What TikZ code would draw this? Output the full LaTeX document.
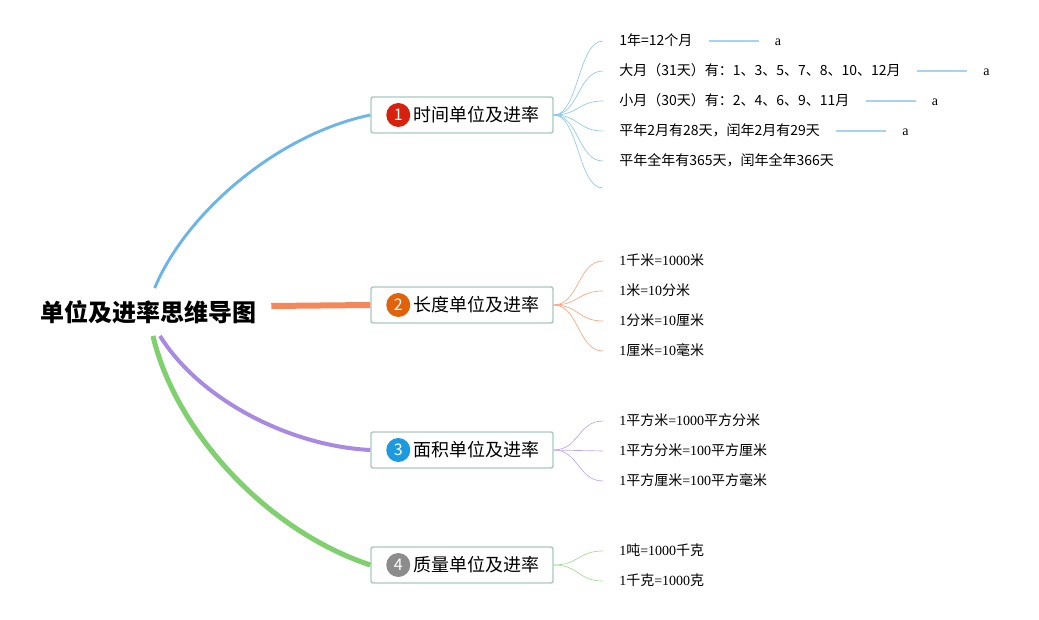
\documentclass[tikz,border=0pt]{standalone}
\usepackage{fontspec}
\setmainfont{Liberation Serif}
\newfontfamily\cjk{Noto Sans CJK SC}
\usepackage{tikz}
\usetikzlibrary{positioning}
\definecolor{boxline}{HTML}{A9C9C0}
\definecolor{lblue}{HTML}{6CB5E5}
\definecolor{lorange}{HTML}{F4885A}
\definecolor{lpurple}{HTML}{A98AE2}
\definecolor{lgreen}{HTML}{80D070}
\definecolor{dred}{HTML}{D4220E}
\definecolor{dorange}{HTML}{E2620C}
\definecolor{dblue}{HTML}{1B9AE0}
\definecolor{dgrey}{HTML}{8C8C8C}
\definecolor{tailc}{HTML}{A8D2EE}

\begin{document}
\begin{tikzpicture}[x=0.75pt, y=-0.75pt,
	box/.style={draw=boxline, line width=1.1pt, rounded corners=1.5pt, fill=white, minimum width=136.5pt, minimum height=27pt, inner sep=0pt},
	dot/.style={circle, fill=#1, text=white, minimum size=18pt, inner sep=0pt, font=\cjk\fontsize{12}{12}\selectfont},
	btext/.style={inner sep=1pt, font=\cjk\fontsize{13.5}{16}\selectfont},
	leaf/.style={anchor=west, inner xsep=12pt, inner ysep=2pt, text height=8.5pt, text depth=2pt, font=\fontsize{10.5}{12}\selectfont},
	tail/.style={inner xsep=12pt, inner ysep=2pt, text height=8.5pt, text depth=2pt, font=\fontsize{10.5}{12}\selectfont},
	twig/.style={line width=0.5pt, draw=#1!75},
	tailline/.style={line width=1.1pt, draw=tailc}]
	\useasboundingbox (0,0) rectangle (1039,620);

	% centre
	\node[inner xsep=11.25pt, inner ysep=9pt, font=\cjk\bfseries\fontsize{18}{20}\selectfont] (root) at (148,312) {单位及进率思维导图};

	% branches
	\node[box] (b1) at (462,115) {};
	\node[dot=dred] (n1) at ([xshift=21pt]b1.west) {1};
	\node[btext, right=1pt of n1] (t1) {时间单位及进率};
	\node[box] (b2) at (462,305) {};
	\node[dot=dorange] (n2) at ([xshift=21pt]b2.west) {2};
	\node[btext, right=1pt of n2] (t2) {长度单位及进率};
	\node[box] (b3) at (462,450) {};
	\node[dot=dblue] (n3) at ([xshift=21pt]b3.west) {3};
	\node[btext, right=1pt of n3] (t3) {面积单位及进率};
	\node[box] (b4) at (462,565) {};
	\node[dot=dgrey] (n4) at ([xshift=21pt]b4.west) {4};
	\node[btext, right=1pt of n4] (t4) {质量单位及进率};

	\draw[lblue, line width=2.2pt] ([xshift=5pt]root.north) .. controls (185,215) and (275,135) .. (b1.west);
	\draw[lorange, line width=4.5pt] ([yshift=4.5pt]root.east) -- (b2.west);
	\draw[lpurple, line width=3pt] ([xshift=9pt]root.south) .. controls (200,400) and (290,446) .. (b3.west);
	\draw[lgreen, line width=3.8pt] ([xshift=3.75pt]root.south) .. controls (175,430) and (265,530) .. (b4.west);

	% time
	\node[leaf] (l11) at (603,41) {\cjk 1年=12个月};
	\node[leaf] (l12) at (603,71) {\cjk 大月（31天）有：1、3、5、7、8、10、12月};
	\node[leaf] (l13) at (603,101) {\cjk 小月（30天）有：2、4、6、9、11月};
	\node[leaf] (l14) at (603,131) {\cjk 平年2月有28天，闰年2月有29天};
	\node[leaf] (l15) at (603,161) {\cjk 平年全年有365天，闰年全年366天};
	\coordinate (l16) at (603,188);
	\node[tail, right=37.5pt of l11] (a11) {a};
	\node[tail, right=37.5pt of l12] (a12) {a};
	\node[tail, right=37.5pt of l13] (a13) {a};
	\node[tail, right=37.5pt of l14] (a14) {a};
	\draw[tailline] (l11.east) -- (a11.west);
	\draw[tailline] (l12.east) -- (a12.west);
	\draw[tailline] (l13.east) -- (a13.west);
	\draw[tailline] (l14.east) -- (a14.west);
	\draw[twig=lblue] (b1.east) .. controls +(25,0) and +(-25,0) .. (l11.west);
	\draw[twig=lblue] (b1.east) .. controls +(25,0) and +(-25,0) .. (l12.west);
	\draw[twig=lblue] (b1.east) .. controls +(25,0) and +(-25,0) .. (l13.west);
	\draw[twig=lblue] (b1.east) .. controls +(25,0) and +(-25,0) .. (l14.west);
	\draw[twig=lblue] (b1.east) .. controls +(25,0) and +(-25,0) .. (l15.west);
	\draw[twig=lblue] (b1.east) .. controls +(25,0) and +(-25,0) .. (l16);

	% length
	\node[leaf] (l21) at (603,261) {1{\cjk 千米}=1000{\cjk 米}};
	\node[leaf] (l22) at (603,291) {1{\cjk 米}=10{\cjk 分米}};
	\node[leaf] (l23) at (603,321) {1{\cjk 分米}=10{\cjk 厘米}};
	\node[leaf] (l24) at (603,351) {1{\cjk 厘米}=10{\cjk 毫米}};
	\draw[twig=lorange] (b2.east) .. controls +(25,0) and +(-25,0) .. (l21.west);
	\draw[twig=lorange] (b2.east) .. controls +(25,0) and +(-25,0) .. (l22.west);
	\draw[twig=lorange] (b2.east) .. controls +(25,0) and +(-25,0) .. (l23.west);
	\draw[twig=lorange] (b2.east) .. controls +(25,0) and +(-25,0) .. (l24.west);

	% area
	\node[leaf] (l31) at (603,421) {1{\cjk 平方米}=1000{\cjk 平方分米}};
	\node[leaf] (l32) at (603,451) {1{\cjk 平方分米}=100{\cjk 平方厘米}};
	\node[leaf] (l33) at (603,481) {1{\cjk 平方厘米}=100{\cjk 平方毫米}};
	\draw[twig=lpurple] (b3.east) .. controls +(25,0) and +(-25,0) .. (l31.west);
	\draw[twig=lpurple] (b3.east) .. controls +(25,0) and +(-25,0) .. (l32.west);
	\draw[twig=lpurple] (b3.east) .. controls +(25,0) and +(-25,0) .. (l33.west);

	% mass
	\node[leaf] (l41) at (603,551) {1{\cjk 吨}=1000{\cjk 千克}};
	\node[leaf] (l42) at (603,581) {1{\cjk 千克}=1000{\cjk 克}};
	\draw[twig=lgreen] (b4.east) .. controls +(25,0) and +(-25,0) .. (l41.west);
	\draw[twig=lgreen] (b4.east) .. controls +(25,0) and +(-25,0) .. (l42.west);
\end{tikzpicture}
\end{document}
